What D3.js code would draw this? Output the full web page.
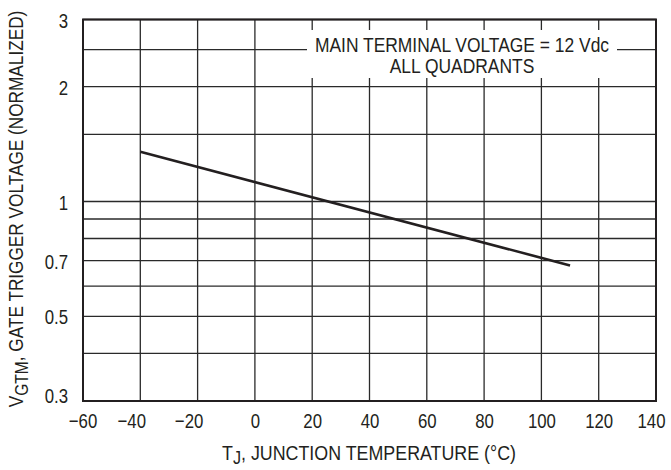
<!DOCTYPE html>
<html><head><meta charset="utf-8">
<script src="https://cdn.jsdelivr.net/npm/d3@7"></script>
<style>
body{margin:0;background:#fff;}
text{font-family:"Liberation Sans",Arial,sans-serif;fill:#231f20;}
</style></head><body>
<svg id="c" width="671" height="470"></svg>
<script>
const xTicks = [-60,-40,-20,0,20,40,60,80,100,120,140];
const yGrid = [0.3,0.4,0.5,0.6,0.7,0.8,0.9,1,1.5,2,2.5,3];
const yLabels = [0.3,0.5,0.7,1,2,3];
const tempC = [-40,110];
const vgtNorm = [1.35,0.68];
const noteLines = ["MAIN TERMINAL VOLTAGE = 12 Vdc","ALL QUADRANTS"];

const SX = 0.8; // condensed look
const FS = 21;
const svg = d3.select("#c");
const L=83,R=656,T=19.5,B=401;
const x = d3.scaleLinear().domain([-60,140]).range([L,R]);
const y = d3.scaleLog().domain([0.3,3]).range([B,T]);
const ink="#231f20";

// grid
svg.append("g").selectAll("line").data(yGrid).join("line")
  .attr("x1",L).attr("x2",R).attr("y1",d=>y(d)).attr("y2",d=>y(d))
  .attr("stroke","#2a2a2a").attr("stroke-width",1.3);
svg.append("g").selectAll("line").data(xTicks).join("line")
  .attr("y1",T).attr("y2",B).attr("x1",d=>x(d)).attr("x2",d=>x(d))
  .attr("stroke","#2a2a2a").attr("stroke-width",1.3);

// note box
svg.append("rect").attr("x",307).attr("y",30).attr("width",310).attr("height",48).attr("fill","#fff");
svg.append("g").selectAll("text").data(noteLines).join("text")
  .attr("transform",(d,i)=>`translate(462,${52+i*21}) scale(0.83,1)`)
  .attr("text-anchor","middle")
  .attr("font-size",FS).text(d=>d);

// frame
svg.append("rect").attr("x",L).attr("y",T).attr("width",R-L).attr("height",B-T)
  .attr("fill","none").attr("stroke",ink).attr("stroke-width",2);

// data line
const data = tempC.map((t,i)=>[t,vgtNorm[i]]);
svg.append("path").datum(data)
  .attr("d",d3.line().x(d=>x(d[0])).y(d=>y(d[1])))
  .attr("fill","none").attr("stroke",ink).attr("stroke-width",2.6);

// axes labels via d3 axes (no lines)
const xMin = d3.min(xTicks), xMax = d3.max(xTicks);
const xa = svg.append("g").attr("transform",`translate(0,${B})`)
  .call(d3.axisBottom(x).tickValues(xTicks).tickSize(0).tickPadding(0)
    .tickFormat(d=>d<0?"\u2212"+Math.abs(d):d));
xa.select(".domain").remove();
xa.selectAll("text").attr("font-size",FS).attr("font-family",null).attr("fill",ink)
  .attr("y",27).attr("dy",0)
  .attr("dx",d=> (d===xMin? -0.5 : d===xMax? -5 : d<0 ? -9 : 0)/SX)
  .attr("transform",`scale(${SX},1)`);

const ya = svg.append("g").attr("transform",`translate(68,0)`)
  .call(d3.axisLeft(y).tickValues(yLabels).tickSize(0).tickPadding(0).tickFormat(d=>d));
ya.select(".domain").remove();
ya.selectAll("text").attr("font-size",FS).attr("font-family",null).attr("fill",ink)
  .attr("x",0).attr("dy",d=>d===0.3? "0.36em":"0.36em")
  .attr("y",d=>d===d3.min(yLabels)? -6 : 0)
  .attr("transform",`scale(${SX},1)`);

// x title
const xt = svg.append("text").attr("transform",`translate(369,460) scale(0.85,1)`)
  .attr("text-anchor","middle").attr("font-size",FS);
xt.append("tspan").text("T");
xt.append("tspan").attr("font-size",19).attr("dy",4).text("J");
xt.append("tspan").attr("dy",-4).text(", JUNCTION TEMPERATURE (°C)");

// y title
const yt = svg.append("text").attr("transform",`translate(23,209) rotate(-90) scale(0.82,1)`)
  .attr("text-anchor","middle").attr("font-size",FS);
yt.append("tspan").text("V");
yt.append("tspan").attr("font-size",19).attr("dy",5).text("GTM");
yt.append("tspan").attr("dy",-5).text(", GATE TRIGGER VOLTAGE (NORMALIZED)");
</script></body></html>
